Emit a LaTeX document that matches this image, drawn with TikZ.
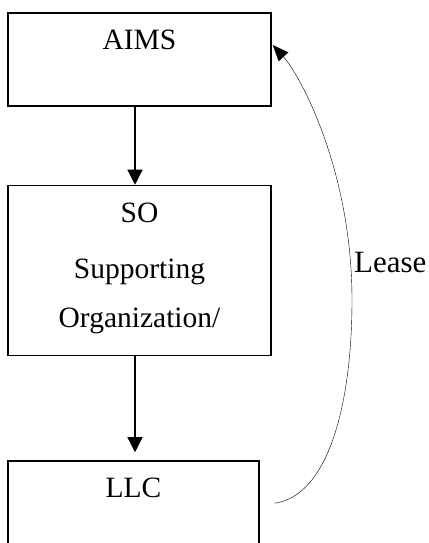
\documentclass[tikz,border=0pt]{standalone}
\usepackage{fontspec}
\setmainfont{Liberation Serif}
\usetikzlibrary{positioning,calc,arrows.meta}

\begin{document}
\begin{tikzpicture}[x=1pt,y=1pt,
   orgbox/.style={draw,line width=1.5pt,minimum width=263pt,inner sep=0pt},
   lbl/.style={font=\fontsize{29.5}{34}\selectfont,inner sep=0pt,anchor=base},
   down/.style={line width=1.2pt,-{Triangle[width=15pt,length=15pt]}},
   node distance=78pt]
	\useasboundingbox (0,0) rectangle (428,543);
	% boxes
	\node[orgbox,minimum height=93pt] (aims) at (139.5,483.5) {};
	\node[orgbox,minimum height=170pt,below=of aims] (so) {};
	\node[orgbox,minimum width=251pt,minimum height=125pt,anchor=north west] (llc) at ([yshift=-104pt]so.south west) {};
	% texts
	\node[lbl] (aimstxt) at ([yshift=-37pt]aims.north) {AIMS};
	\node[lbl] (sotxt) at ([yshift=-38pt]so.north) {SO};
	\node[lbl] (suptxt) at ([yshift=-94pt]so.north) {Supporting};
	\node[lbl] (orgtxt) at ([yshift=-143pt]so.north) {Organization/};
	\node[lbl] (llctxt) at ([yshift=-37pt]llc.north) {LLC};
	% arrows
	\draw[down] ([xshift=-4.5pt]aims.south) -- ([xshift=-4.5pt]so.north);
	\draw[down] ([xshift=-4.5pt]so.south) -- ([xshift=-4.5pt,yshift=8pt]so.south |- llc.north);
	% lease
	\coordinate (leasestart) at ([shift={(15pt,-43pt)}]llc.north east);
	\coordinate (leasemid) at (352,243);
	\coordinate (leaseend) at ([shift={(1pt,14.5pt)}]aims.east);
	\draw[line width=0.4pt,-{Triangle[width=13pt,length=16pt]}] (leasestart)
	   .. controls (330,48) and (352,143) .. (leasemid)
	   .. controls (352,373) and (300,468) .. (leaseend);
	\node[lbl,anchor=base west,font=\fontsize{31}{36}\selectfont] (leasetxt) at (354,270) {Lease};
\end{tikzpicture}
\end{document}
